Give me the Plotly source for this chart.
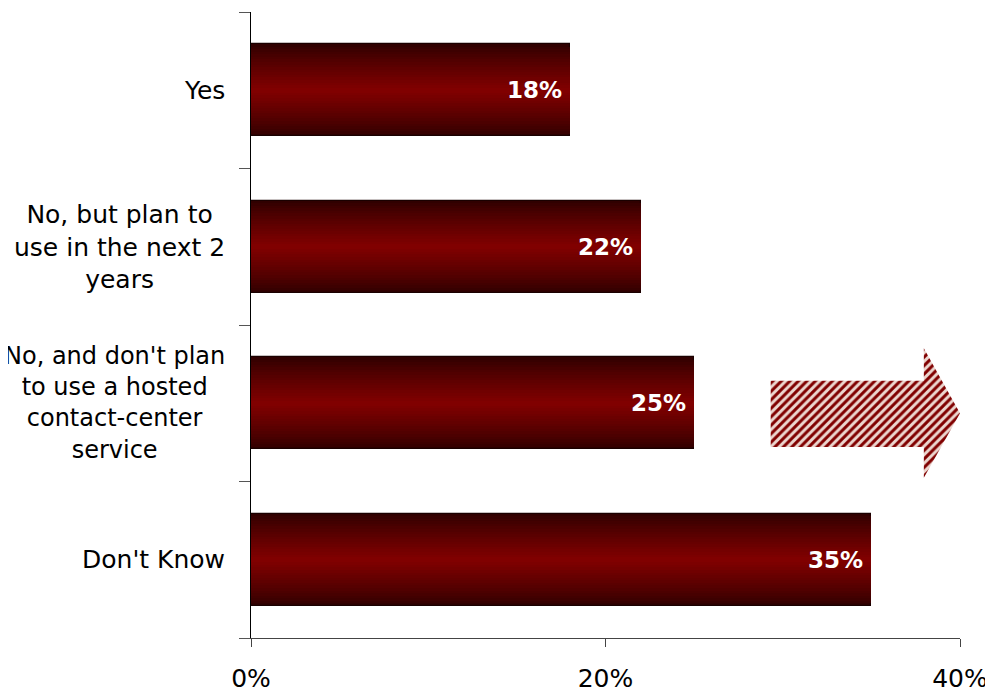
import plotly.graph_objects as go

# ---- data ----
categories = [
    "Yes",
    "No, but plan to<br>use in the next 2<br>years",
    "No, and don't plan<br>to use a hosted<br>contact-center<br>service",
    "Don't Know",
]
values = [18, 22, 25, 35]
value_labels = ["18%", "22%", "25%", "35%"]
x_tick_vals = [0, 20, 40]
x_tick_text = ["0%", "20%", "40%"]

positions = list(range(len(categories)))
FONT = "DejaVu Sans"
label_sizes = [25, 25, 24, 25]

fig = go.Figure()

# gradient bars: overlay layers of decreasing thickness
BAR_W = 0.59
N_LAYERS = 18
dark = (0x30, 0x00, 0x00)
red = (0x80, 0x00, 0x00)
for i in range(N_LAYERS):
    t = i / (N_LAYERS - 1)
    t = t ** 0.85
    c = tuple(int(round(d + (r - d) * t)) for d, r in zip(dark, red))
    w = BAR_W * (1 - i / N_LAYERS)
    fig.add_trace(go.Bar(
        x=values, y=positions, orientation="h",
        width=[w] * len(values),
        marker=dict(color="rgb(%d,%d,%d)" % c,
                    line=dict(width=1.2 if i == 0 else 0, color="#1a0000")),
        hoverinfo="skip", showlegend=False,
    ))

# decorative hatched arrow (overlay axes in plot-fraction units)
ARROW_X = [0.733, 0.949, 0.949, 1.0, 0.949, 0.949, 0.733, 0.733]
ARROW_Y = [0.589, 0.589, 0.537, 0.641, 0.744, 0.695, 0.695, 0.589]
fig.add_trace(go.Scatter(
    x=ARROW_X, y=ARROW_Y, xaxis="x2", yaxis="y2", mode="lines",
    line=dict(width=0, color="rgba(0,0,0,0)"), fill="toself",
    fillcolor="#e8cfc8",
    fillpattern=dict(shape="/", fgcolor="#800000", bgcolor="#ecd6cf",
                     size=6, solidity=0.5, fillmode="replace"),
    hoverinfo="skip", showlegend=False,
))

annotations = []
for p, cat, fs in zip(positions, categories, label_sizes):
    annotations.append(dict(
        text=cat, xref="paper", yref="y", x=-0.034, y=p,
        xanchor="right", yanchor="middle", align="center", showarrow=False,
        font=dict(family=FONT, size=fs, color="black"),
    ))
for p, v, lab in zip(positions, values, value_labels):
    annotations.append(dict(
        text=lab, xref="x", yref="y", x=v, y=p,
        xanchor="right", yanchor="middle", xshift=-6, showarrow=False,
        font=dict(family=FONT, size=23, color="white", weight="bold"),
    ))

fig.update_layout(
    width=985, height=686,
    margin=dict(l=243, r=33, t=4, b=56, autoexpand=False),
    paper_bgcolor="white", plot_bgcolor="white",
    barmode="overlay", bargap=0,
    showlegend=False,
    annotations=annotations,
    xaxis=dict(
        range=[0, 40], tickvals=x_tick_vals, ticktext=x_tick_text,
        showline=True, linecolor="#444", linewidth=1,
        ticks="outside", ticklen=8, tickcolor="#444",
        showgrid=False, zeroline=False, automargin=False,
        tickfont=dict(family=FONT, size=25, color="black"),
        ticklabelstandoff=10,
    ),
    yaxis=dict(
        range=[3.5, -0.5], tickvals=[-0.5, 0.5, 1.5, 2.5, 3.5],
        ticktext=["", "", "", "", ""], showticklabels=False,
        showline=True, linecolor="black", linewidth=1,
        ticks="outside", ticklen=11, tickcolor="#555",
        showgrid=False, zeroline=False, automargin=False,
    ),
    xaxis2=dict(overlaying="x", range=[0, 1], visible=False, anchor="y2"),
    yaxis2=dict(overlaying="y", range=[1, 0], visible=False, anchor="x2"),
)

fig.write_html("out.html")
